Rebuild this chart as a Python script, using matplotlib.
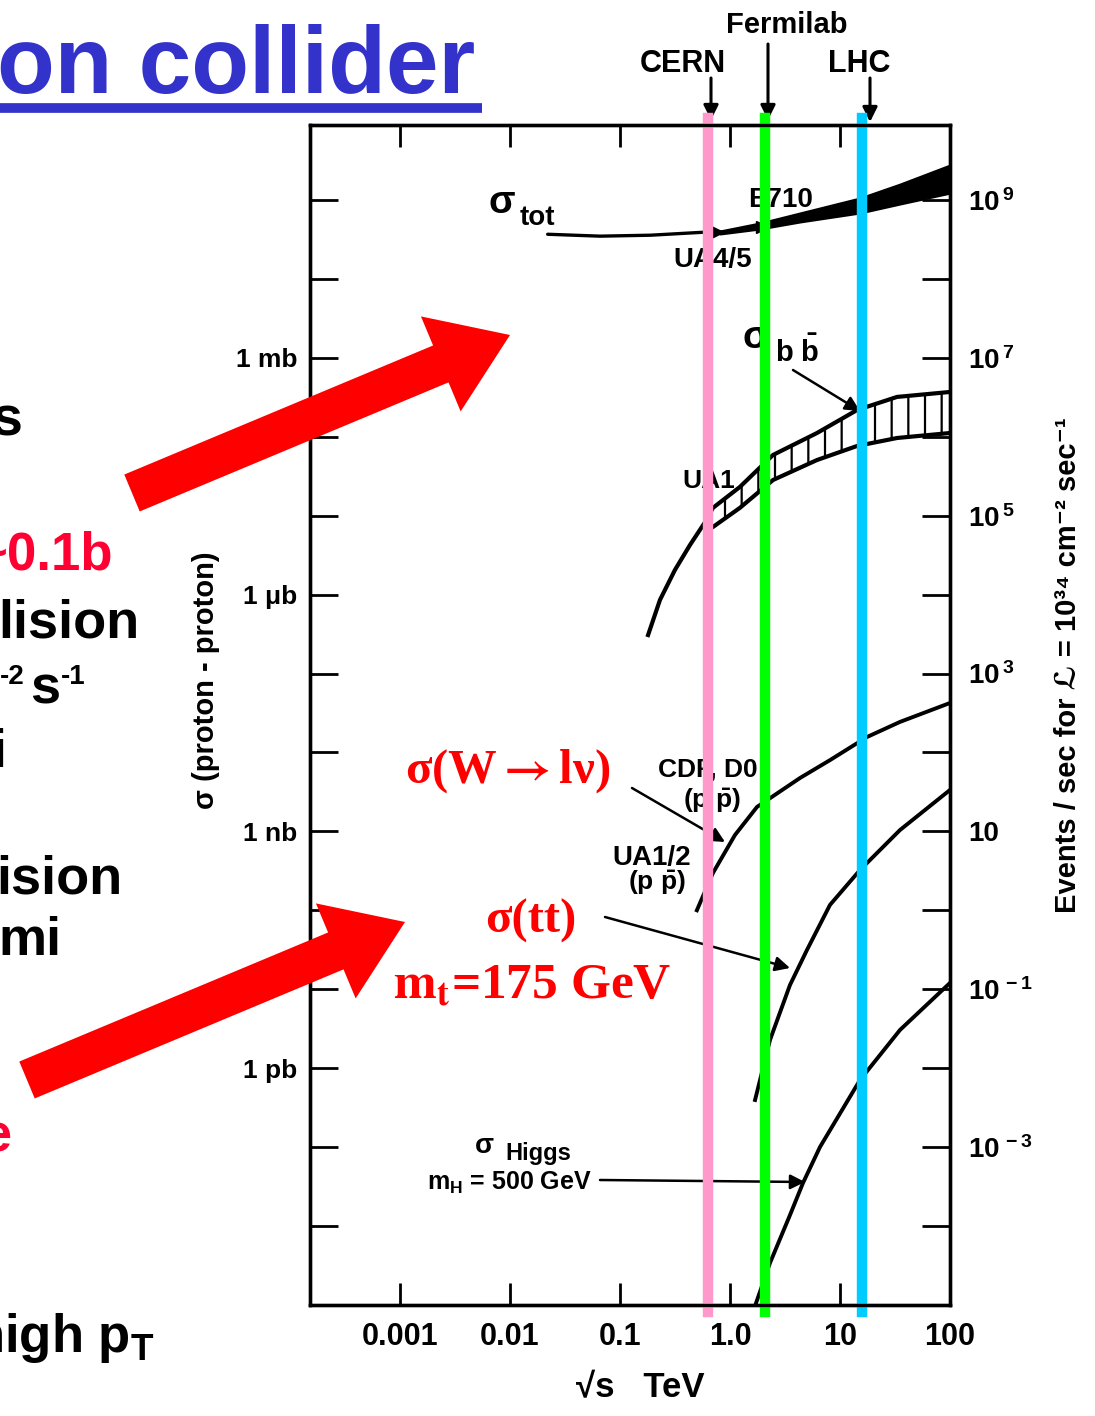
import matplotlib
matplotlib.use("Agg")
import matplotlib.pyplot as plt
from matplotlib.patches import FancyArrow
from matplotlib.ticker import NullLocator

# ---- fonts ----
plt.rcParams["font.family"] = ["Liberation Sans", "DejaVu Sans"]
plt.rcParams["font.weight"] = "bold"
plt.rcParams["mathtext.fontset"] = "custom"
plt.rcParams["mathtext.rm"] = "Liberation Sans:bold"
plt.rcParams["mathtext.it"] = "Liberation Sans:bold"
plt.rcParams["mathtext.bf"] = "Liberation Sans:bold"
plt.rcParams["hatch.linewidth"] = 1.6
plt.rcParams["hatch.color"] = "black"

W, H = 1095, 1416
RED = "#FF0000"
SLIDE_RED = "#FF0033"
BLUE = "#3333CC"
SERIF = ["Liberation Serif", "DejaVu Serif"]

# ---- data: sqrt(s) in TeV, sigma in barn ----
tot_x = [0.022, 0.066, 0.19, 0.53, 0.81]
tot_y = [0.037, 0.035, 0.036, 0.039, 0.040]
tot_band_x = [0.81, 1.87, 4.33, 15.2, 35.1, 100]
tot_band_lo = [0.0373, 0.0432, 0.0530, 0.0689, 0.0895, 0.123]
tot_band_hi = [0.0407, 0.0514, 0.0689, 0.1067, 0.160, 0.279]

bb_x = [0.18, 0.231, 0.316, 0.433, 0.593, 0.62]
bb_y = [3.08e-7, 8.6e-7, 2.06e-6, 4.27e-6, 8.3e-6, 8.0e-6]
bb_band_x = [0.62, 0.70, 1.23, 2.46, 6.18, 14.3, 33.0, 100]
bb_band_lo = [6.6e-6, 7.21e-6, 1.26e-5, 2.84e-5, 5.09e-5, 7.67e-5, 9.68e-5, 1.12e-4]
bb_band_hi = [9.4e-6, 1.26e-5, 2.32e-5, 5.90e-5, 1.12e-4, 2.19e-4, 3.21e-4, 3.71e-4]

w_x = [0.50, 0.70, 1.11, 1.76, 4.33, 8.11, 17.6, 35.1, 100]
w_y = [1.0e-10, 2.97e-10, 9.0e-10, 2.04e-9, 4.75e-9, 8.0e-9, 1.57e-8, 2.44e-8, 4.24e-8]

tt_x = [1.69, 2.31, 3.51, 5.01, 8.11, 15.2, 35.1, 100]
tt_y = [3.94e-13, 2.27e-12, 1.13e-11, 3.14e-11, 1.17e-10, 3.24e-10, 1.04e-9, 3.35e-9]

higgs_x = [1.66, 2.31, 3.51, 4.61, 6.58, 15.2, 35.1, 100]
higgs_y = [9.0e-16, 3.39e-15, 1.37e-14, 3.5e-14, 1.0e-13, 7.06e-13, 3.04e-12, 1.2e-11]

# measured points marked with small arrow heads on the total cross section
tot_meas_x = [0.76, 1.95]
tot_meas_y = [0.040, 0.046]

# machines (sqrt(s) of the coloured markers)
machines = [0.63, 2.1, 16]
machine_colors = ["#FF99CC", "#00FF00", "#00CCFF"]

xticks = [0.001, 0.01, 0.1, 1.0, 10, 100]
xtick_labels = ["0.001", "0.01", "0.1", "1.0", "10", "100"]
left_exp = list(range(-14, 0))
left_names = {-3: "1 mb", -6: "1 \u03bcb", -9: "1 nb", -12: "1 pb"}
right_exp = list(range(-4, 10))
EVT = 1e10  # events/sec per barn at L = 1e34 cm^-2 s^-1

fig = plt.figure(figsize=(W / 100, H / 100), dpi=100)
fig.patch.set_facecolor("white")


def frac(x0, y0, x1, y1):
    return [x0 / W, 1 - y1 / H, (x1 - x0) / W, (y1 - y0) / H]


def overlay(z):
    a = fig.add_axes([0, 0, 1, 1], zorder=z)
    a.set_xlim(0, W)
    a.set_ylim(H, 0)
    a.axis("off")
    return a


ann = overlay(1)

# ---- main chart ----
ax = fig.add_axes(frac(310, 125, 950, 1305), zorder=2)
ax.patch.set_alpha(0)
ax.set_xscale("log")
ax.set_yscale("log")
ax.set_xlim(10 ** -3.818, 100)
ylo, yhi = 10 ** -15.003, 10 ** -0.047
ax.set_ylim(ylo, yhi)

ax.plot(tot_x, tot_y, color="k", lw=2.4, solid_capstyle="round")
ax.fill_between(tot_band_x, tot_band_lo, tot_band_hi, color="k", lw=1.5)
ax.plot(tot_meas_x, tot_meas_y, ls="none", marker=">", ms=8, color="k")

ax.plot(bb_x, bb_y, color="k", lw=3)
ax.fill_between(bb_band_x, bb_band_lo, bb_band_hi, facecolor="white",
                edgecolor="k", hatch="|", lw=0)
ax.plot(bb_band_x, bb_band_lo, color="k", lw=3)
ax.plot(bb_band_x, bb_band_hi, color="k", lw=3)

for xs, ys in [(w_x, w_y), (tt_x, tt_y), (higgs_x, higgs_y)]:
    ax.plot(xs, ys, color="k", lw=2.8)

for xm, c in zip(machines, machine_colors):
    ax.axvline(xm, ymin=-0.006, ymax=1.006, color=c, lw=7.5, clip_on=False, zorder=5)

ax.set_xticks(xticks, xtick_labels)
ax.set_yticks([10.0 ** k for k in left_exp], [left_names.get(k, "") for k in left_exp])
ax.xaxis.set_minor_locator(NullLocator())
ax.yaxis.set_minor_locator(NullLocator())
ax.tick_params(axis="x", direction="in", length=16, width=2, top=True,
               labelsize=22, pad=12)
ax.tick_params(axis="y", direction="in", length=20, width=2, right=False,
               labelsize=19, pad=9)
for s in ax.spines.values():
    s.set_linewidth(2.4)

ax2 = ax.twinx()
ax2.set_zorder(2)
ax2.set_yscale("log")
ax2.set_ylim(ylo * EVT, yhi * EVT)


def rlabel(k):
    if k % 2 == 0:
        return ""
    return "10" if k == 1 else "10$^{\\,%d}$" % k


ax2.set_yticks([10.0 ** k for k in right_exp], [rlabel(k) for k in right_exp])
ax2.yaxis.set_minor_locator(NullLocator())
ax2.tick_params(axis="y", direction="in", length=20, width=2, labelsize=20, pad=13)
for s in ax2.spines.values():
    s.set_linewidth(2.4)

# ---- annotations of the original plot ----
def label(x, y, s, size=19, **kw):
    ann.text(x, y, s, fontsize=size, fontweight="bold", va="baseline", **kw)


def pointer(x0, y0, x1, y1, lw=1.8):
    ann.annotate("", xy=(x1, y1), xytext=(x0, y0),
                 arrowprops=dict(arrowstyle="-|>", color="k", lw=lw,
                                 mutation_scale=22, shrinkA=0, shrinkB=0))


label(787, 33, "Fermilab", 21, ha="center")
label(683, 72, "CERN", 22, ha="center")
label(859, 72, "LHC", 22, ha="center")
pointer(711, 78, 711, 120, 2.2)
pointer(768, 44, 768, 120, 2.2)
pointer(870, 78, 870, 122, 2.2)

label(488, 213, "\u03c3", 28)
label(520, 225, "tot", 20)
label(748, 207, "E710", 20)
label(673, 267, "UA4/5", 20)
label(743, 348, "\u03c3", 28)
label(775, 362, r"b $\bar{\rm b}$", 21)
pointer(793, 370, 860, 411)
label(682, 488, "UA1", 19)
label(658, 777, "CDF, D0", 19)
label(683, 808, r"(p $\bar{\rm p}$)", 19)
label(612, 865, "UA1/2", 20)
label(628, 890, r"(p $\bar{\rm p}$)", 19)
pointer(632, 788, 725, 842)
pointer(605, 917, 790, 968)
label(475, 1153, "\u03c3", 20)
label(505, 1160, "Higgs", 17)
label(427, 1190, r"m$_{\rm H}$ = 500 GeV", 18)
pointer(600, 1180, 805, 1182)

ann.text(640, 1397, "\u221as   TeV", fontsize=25, fontweight="bold",
         ha="center", va="baseline")
ann.text(206, 680, "\u03c3 (proton - proton)", fontsize=21, fontweight="bold",
         rotation=90, ha="center", va="center")
ann.text(1068, 665,
         "Events / sec for \u2112 = 10\u00b3\u2074 cm\u207b\u00b2 sec\u207b\u00b9",
         fontsize=21, fontweight="bold", rotation=90, ha="center", va="center",
         family=["Liberation Sans", "DejaVu Sans"])

# ---- slide layer: cut-off text, red arrows, red labels ----
top = overlay(3)
top.text(-3, 93, "on collider", fontsize=68, fontweight="bold", color=BLUE,
         va="baseline")
top.plot([0, 482], [107.5, 107.5], color=BLUE, lw=7, solid_capstyle="butt")

fragments = [
    ("s", 22, 435, 40, "k", "right"),
    ("~0.1b", 113, 570, 38, SLIDE_RED, "right"),
    ("lision", 140, 638, 39, "k", "right"),
    ("-2", 25, 684, 20, "k", "right"),
    ("s", 60, 703, 39, "k", "right"),
    ("-1", 61, 684, 20, "k", "left"),
    ("i", 6, 767, 39, "k", "right"),
    ("ision", 122, 893, 39, "k", "right"),
    ("mi", 62, 955, 39, "k", "right"),
    ("e", 12, 1152, 39, SLIDE_RED, "right"),
    (r"high p$_{\rm T}$", 155, 1352, 38, "k", "right"),
]
for s, x, y, size, c, ha in fragments:
    top.text(x, y, s, fontsize=size, fontweight="bold", color=c,
             ha=ha, va="baseline")

for x0, y0 in [(132, 493), (27, 1080)]:
    top.add_patch(FancyArrow(x0, y0, 378, -158, width=40, head_width=103,
                             head_length=75, length_includes_head=True,
                             color=RED, lw=0))

top.text(405, 783, "\u03c3(W$\\mathbf{\\rightarrow}$l\u03bd)", fontsize=35,
         fontweight="bold", family=SERIF, math_fontfamily="stix", color=RED,
         va="baseline")
top.text(485, 933, "\u03c3(tt)", fontsize=35, fontweight="bold",
         family=SERIF, color=RED, va="baseline")
top.text(393, 998, r"$\mathbf{m}_{\mathbf{t}}$=175 GeV", fontsize=37,
         fontweight="bold", family=SERIF, math_fontfamily="stix", color=RED,
         va="baseline")

fig.savefig("out.png", dpi=100, facecolor="white")
